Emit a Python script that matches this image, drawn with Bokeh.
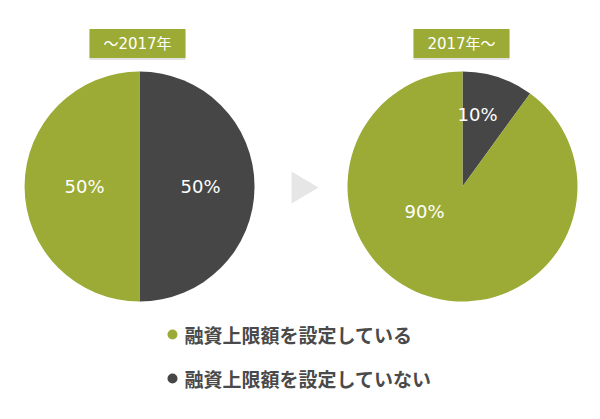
import math
from bokeh.plotting import figure
from bokeh.models import Range1d, ColumnDataSource
from bokeh.core.properties import value
from bokeh.embed import file_html
from bokeh.resources import INLINE

# Data
periods = ["～2017年", "2017年～"]
categories = ["融資上限額を設定している", "融資上限額を設定していない"]
share_before = [50, 50]   # % by category, up to 2017
share_after = [90, 10]    # % by category, from 2017
colors = ["#9cab35", "#464646"]

W, H = 600, 419
FONT = value("Noto Sans CJK JP")
NUM_FONT = value("DejaVu Sans")
MIX_FONT = value("DejaVu Sans, Noto Sans CJK JP")

p = figure(width=W, height=H, output_backend="svg", toolbar_location=None,
           x_range=Range1d(0, W), y_range=Range1d(0, H),
           min_border=0, outline_line_color=None, background_fill_color="white")
p.axis.visible = False
p.grid.visible = False


def sy(py):
    return H - py


# pie layout: centre (px), radius, label offsets in px per category
pies = [
    dict(cx=139, cy=186, r=115, shares=share_before, title=periods[0],
         box=(137, 43, 96, 29), label_pos=[(-55, 0), (61, 0)]),
    dict(cx=462, cy=186, r=115, shares=share_after, title=periods[1],
         box=(461, 43, 96, 29), label_pos=[(-38, 25), (15, -72)]),
]

for pie in pies:
    # wedges start at 12 o'clock and run clockwise, "not set" first
    order = [1, 0]
    acc = 0.0
    src = dict(start=[], end=[], color=[])
    for i in order:
        frac = pie["shares"][i] / 100.0
        src["start"].append(math.pi / 2 - acc * 2 * math.pi)
        acc += frac
        src["end"].append(math.pi / 2 - acc * 2 * math.pi)
        src["color"].append(colors[i])
    p.wedge(x=pie["cx"], y=sy(pie["cy"]), radius=pie["r"],
            start_angle="start", end_angle="end", direction="clock",
            fill_color="color", line_color=None, source=ColumnDataSource(src))

    # percentage labels
    lx = [pie["cx"] + dx for dx, _ in pie["label_pos"]]
    ly = [sy(pie["cy"] + dy) for _, dy in pie["label_pos"]]
    txt = [f"{v}%" for v in pie["shares"]]
    p.text(x=lx, y=ly, text=txt, text_color="white", text_font=NUM_FONT,
           text_font_size="18px", text_align="center", text_baseline="middle")

    # period title box with a faint drop line
    bx, by, bw, bh = pie["box"]
    p.rect(x=bx, y=sy(by + 2), width=bw, height=bh, fill_color="#e3e3e3", line_color=None)
    p.rect(x=bx, y=sy(by), width=bw, height=bh, fill_color=colors[0], line_color=None)
    p.text(x=[bx], y=[sy(by)], text=[pie["title"]], text_color="white", text_font=MIX_FONT,
           text_font_size="15px", text_align="center", text_baseline="middle")

# arrow between pies
p.patch(x=[291, 318, 291], y=[sy(171), sy(187), sy(203)], fill_color="#e6e6e6", line_color=None)

# legend
leg_y = [334, 378]
p.scatter(x=[172, 172], y=[sy(v) for v in leg_y], size=10, color=colors, line_color=None)
p.text(x=[184, 184], y=[sy(v) for v in leg_y], text=categories, text_color="#4a4a4a",
       text_font=FONT, text_font_size="19px", text_font_style="bold",
       text_align="left", text_baseline="middle")

open("out.html", "w").write(file_html(p, INLINE))
